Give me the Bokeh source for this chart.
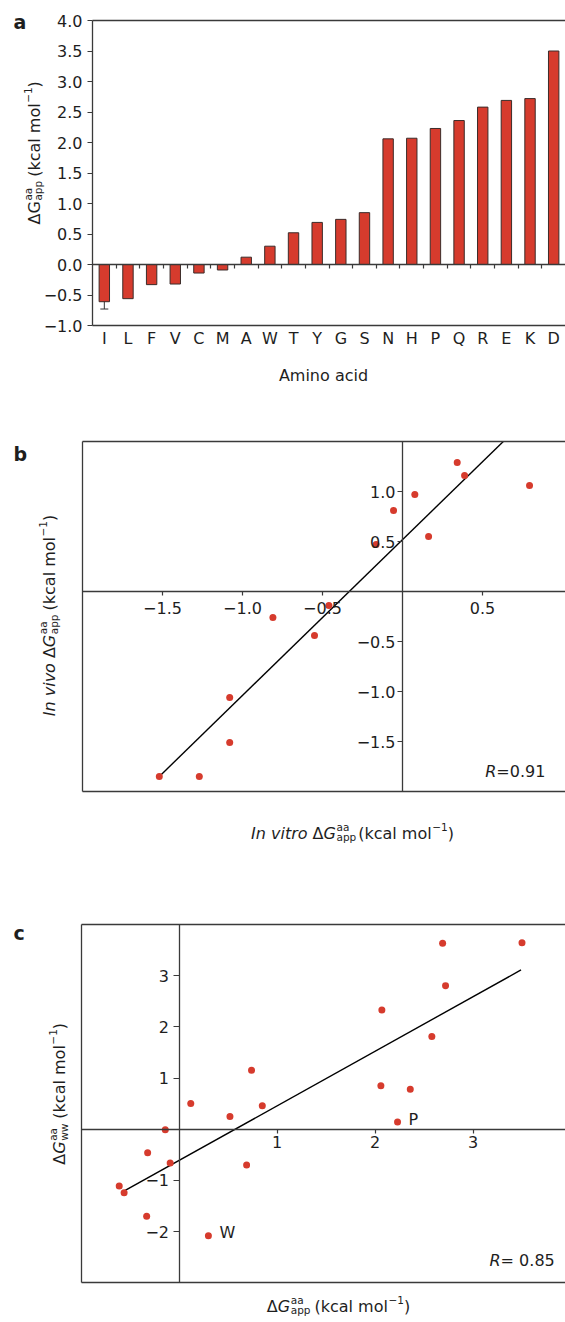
import math
from bokeh.plotting import figure
from bokeh.models import Range1d, LinearAxis, FixedTicker, Label, Whisker, ColumnDataSource, TeeHead
from bokeh.layouts import column
from bokeh.embed import file_html
from bokeh.resources import INLINE

# ---------------- data ----------------
amino_acids = ["I", "L", "F", "V", "C", "M", "A", "W", "T", "Y",
               "G", "S", "N", "H", "P", "Q", "R", "E", "K", "D"]
dg_app = [-0.61, -0.56, -0.33, -0.32, -0.14, -0.09, 0.12, 0.30, 0.52, 0.69,
          0.74, 0.85, 2.06, 2.07, 2.23, 2.36, 2.58, 2.69, 2.72, 3.50]
err_aa = ["I"]
err_lower = [-0.73]
err_upper = [-0.49]
a_yticks = [-1.0, -0.5, 0.0, 0.5, 1.0, 1.5, 2.0, 2.5, 3.0, 3.5, 4.0]

in_vitro = [-1.52, -1.27, -1.08, -1.08, -0.81, -0.55, -0.46, -0.165, -0.056, 0.077, 0.163, 0.342, 0.388, 0.794]
in_vivo = [-1.85, -1.85, -1.51, -1.06, -0.26, -0.44, -0.14, 0.47, 0.81, 0.97, 0.55, 1.29, 1.16, 1.06]
b_fit_x = [-1.52, 0.63]
b_fit_y = [-1.85, 1.50]
b_xticks = [-1.5, -1.0, -0.5, 0.5]
b_yticks = [-1.5, -1.0, -0.5, 0.5, 1.0]
b_r_value = "0.91"

dg_ww = [-1.11, -1.24, -1.70, -0.46, -0.01, -0.66, 0.50, -2.08, 0.25, -0.70,
         1.15, 0.46, 0.85, 2.33, 0.14, 0.78, 1.81, 3.63, 2.80, 3.64]
c_fit_x = [-0.59, 3.49]
c_fit_y = [-1.24, 3.11]
c_xticks = [1, 2, 3]
c_yticks = [-2, -1, 1, 2, 3]
c_labelled = ["W", "P"]
c_r_value = "0.85"

# ---------------- style ----------------
RED = "#d63b2d"
AXC = "#3a3a3a"
TXT = "#1e1e1e"
FONT = "DejaVu Sans"
FS = 16
SMALL = 10.5
PAGE_W = 565

# DejaVu Sans advance widths (per 1000 em)
AW = {' ': 318, '(': 390, ')': 390, '.': 318, '=': 838, '\u2212': 838, '-': 361,
      '0': 636, '1': 636, '2': 636, '3': 636, '4': 636, '5': 636, '6': 636, '7': 636, '8': 636, '9': 636,
      'A': 684, 'G': 775, 'I': 295, 'P': 603, 'R': 695, 'W': 989, '\u0394': 684,
      'a': 613, 'c': 550, 'd': 635, 'i': 278, 'k': 579, 'l': 278, 'm': 974, 'n': 634,
      'o': 612, 'p': 635, 'r': 411, 't': 392, 'v': 592, 'w': 818}


def tw(s, size):
    return sum(AW.get(ch, 620) for ch in s) / 1000.0 * size


def minus(s):
    return s.replace("-", "\u2212")


def fmt1(t):
    return minus(f"{t:.1f}")


def fmt0(t):
    return minus(f"{t:g}")


def make_fig(top, h, ox, sx, oy, sy):
    """Frame fills the whole canvas; ox/oy = page position of data 0, sx/sy = px per unit."""
    g = dict(ox=ox, sx=sx, oy=oy, sy=sy)
    x0, x1 = -ox / sx, (PAGE_W - ox) / sx
    y1, y0 = (oy - top) / sy, (oy - top - h) / sy
    p = figure(width=PAGE_W, height=h, x_range=Range1d(x0, x1), y_range=Range1d(y0, y1),
               x_axis_type=None, y_axis_type=None, toolbar_location=None, output_backend="svg",
               min_border=0)
    p.outline_line_color = None
    p.background_fill_color = "white"
    p.border_fill_color = "white"
    g["x1"] = x1
    return p, g


def to_data(g, px, py):
    return (px - g["ox"]) / g["sx"], (g["oy"] - py) / g["sy"]


def style_axis(ax, tick_out=5, standoff=4):
    ax.axis_line_color = AXC
    ax.axis_line_width = 1.3
    ax.major_tick_line_color = AXC
    ax.major_tick_line_width = 1.2
    ax.major_tick_out = tick_out
    ax.major_tick_in = 0
    ax.minor_tick_line_color = None
    ax.major_label_text_font = FONT
    ax.major_label_text_font_size = f"{FS}px"
    ax.major_label_text_color = TXT
    ax.major_label_standoff = standoff


def line_axis(p, side, loc, bounds, minor=None):
    ax = LinearAxis(fixed_location=loc, bounds=bounds,
                    ticker=FixedTicker(ticks=[], minor_ticks=minor or []))
    style_axis(ax, tick_out=0, standoff=0)
    ax.major_tick_line_color = None
    if minor:
        ax.minor_tick_line_color = AXC
        ax.minor_tick_line_width = 1.2
        ax.minor_tick_out = 4
        ax.minor_tick_in = 0
    p.add_layout(ax, side)


def tick_axis(p, side, loc, bounds, ticks, fmt, tick_out, standoff):
    ax = LinearAxis(fixed_location=loc, bounds=bounds, ticker=FixedTicker(ticks=ticks),
                    major_label_overrides={t: fmt(t) for t in ticks})
    style_axis(ax, tick_out=tick_out, standoff=standoff)
    p.add_layout(ax, side)
    return ax


def rich(p, g, segs, along, base, vertical=False, align="center", size=FS, small=SMALL):
    items = []
    u = 0.0
    for seg in segs:
        kind = seg[0]
        if kind == "n":
            style = seg[2] if len(seg) > 2 else "normal"
            items.append((u, 0.0, seg[1], size, style))
            u += tw(seg[1], size)
        elif kind == "gap":
            u += seg[1]
        elif kind == "sup":
            items.append((u + 0.5, 0.40 * size, seg[1], small, "normal"))
            u += tw(seg[1], small) + 0.5
        elif kind == "stack":
            items.append((u + 0.5, 0.41 * size, seg[1], small, "normal"))
            items.append((u + 0.5, -0.24 * size, seg[2], small, "normal"))
            u += max(tw(seg[1], small), tw(seg[2], small)) + 0.5
    if align == "center":
        start = along + u / 2 if vertical else along - u / 2
    else:
        start = along
    for uu, v, text, fs, style in items:
        if vertical:
            px, py, ang = base - v, start - uu, math.pi / 2
        else:
            px, py, ang = start + uu, base - v, 0.0
        x, y = to_data(g, px, py)
        p.add_layout(Label(x=x, y=y, text=text, angle=ang, text_align="left",
                           text_baseline="alphabetic", text_font=FONT,
                           text_font_size=f"{fs}px", text_font_style=style, text_color=TXT))


UNIT = [("n", "(kcal mol"), ("sup", "\u22121"), ("n", ")")]

# ---------------- panel a ----------------
n_aa = len(amino_acids)
pa, ga = make_fig(0, 400, 92, 473 / n_aa, 264, 61)
xs = [i + 0.5 for i in range(n_aa)]
src_a = ColumnDataSource(dict(x=xs, top=dg_app, aa=amino_acids))
pa.vbar(x="x", top="top", bottom=0, width=0.44, source=src_a,
        fill_color=RED, line_color="#3b2c2a", line_width=1)

ya, yb_ = a_yticks[0], a_yticks[-1]
tick_axis(pa, "left", 0, (ya, yb_), a_yticks, fmt1, 5, 5)
ax_cat = LinearAxis(fixed_location=ya, bounds=(0, n_aa), ticker=FixedTicker(ticks=xs),
                    major_label_overrides={x: a for x, a in zip(xs, amino_acids)})
style_axis(ax_cat, tick_out=0, standoff=3)
ax_cat.major_tick_line_color = None
pa.add_layout(ax_cat, "below")
line_axis(pa, "above", yb_, (0, n_aa))
line_axis(pa, "below", 0, (0, n_aa), minor=list(range(1, n_aa)))

wsrc = ColumnDataSource(dict(x=[xs[amino_acids.index(a)] for a in err_aa], lo=err_lower, hi=err_upper))
pa.add_layout(Whisker(base="x", lower="lo", upper="hi", source=wsrc, dimension="height",
                      line_color="#333333", line_width=1,
                      upper_head=TeeHead(size=8, line_color="#333333", line_width=1),
                      lower_head=TeeHead(size=8, line_color="#333333", line_width=1)))

rich(pa, ga, [("n", "a", "bold")], 13, 21.5, align="left", size=19)
rich(pa, ga, [("n", "\u0394G"), ("stack", "aa", "app"), ("gap", 4)] + UNIT, 152.3, 34, vertical=True)
rich(pa, ga, [("n", "Amino acid")], 323, 375)

# ---------------- panel b ----------------
pb, gb = make_fig(400, 480, 402, 160, 591, 100)
bx_lo, by_lo, by_hi = -2.0, -2.0, 1.5
line_axis(pb, "left", bx_lo, (by_lo, by_hi))
line_axis(pb, "above", by_hi, (bx_lo, gb["x1"]))
line_axis(pb, "below", by_lo, (bx_lo, gb["x1"]))
tick_axis(pb, "below", 0, (bx_lo, gb["x1"]), b_xticks, fmt1, 4, 6)
tick_axis(pb, "left", 0, (by_lo, by_hi), b_yticks, fmt1, 5, 2)
pb.line(b_fit_x, b_fit_y, line_color="black", line_width=1.4)
pb.scatter(in_vitro, in_vivo, size=7, fill_color=RED, line_color=None)

rich(pb, gb, [("n", "b", "bold")], 13, 453.5, align="left", size=19)
rich(pb, gb, [("n", "In vivo", "italic"), ("gap", 5), ("n", "\u0394"), ("n", "G", "italic"),
              ("stack", "aa", "app"), ("gap", 4)] + UNIT, 615, 49.3, vertical=True)
rich(pb, gb, [("n", "In vitro", "italic"), ("gap", 5), ("n", "\u0394"), ("n", "G", "italic"),
              ("stack", "aa", "app"), ("gap", 2)] + UNIT, 352, 832.7)
rich(pb, gb, [("n", "R", "italic"), ("n", "=" + b_r_value)], 484.7, 770.7, align="left")

# ---------------- panel c ----------------
pc, gc = make_fig(880, 442, 178.5, 98, 1128.7, 51.2)
cx_lo, cy_lo, cy_hi = -1.0, -3.0, 4.0
line_axis(pc, "left", cx_lo, (cy_lo, cy_hi))
line_axis(pc, "above", cy_hi, (cx_lo, gc["x1"]))
line_axis(pc, "below", cy_lo, (cx_lo, gc["x1"]))
tick_axis(pc, "below", 0, (cx_lo, gc["x1"]), c_xticks, fmt0, 4, 3)
tick_axis(pc, "left", 0, (cy_lo, cy_hi), c_yticks, fmt0, 6, 4)
pc.line(c_fit_x, c_fit_y, line_color="black", line_width=1.4)
pc.scatter(dg_app, dg_ww, size=7, fill_color=RED, line_color=None)
for aa in c_labelled:
    i = amino_acids.index(aa)
    pc.add_layout(Label(x=dg_app[i], y=dg_ww[i], text=aa, x_offset=11, y_offset=3,
                        text_align="left", text_baseline="middle", text_font=FONT,
                        text_font_size=f"{FS}px", text_color=TXT))

rich(pc, gc, [("n", "c", "bold")], 13, 932, align="left", size=19)
rich(pc, gc, [("n", "\u0394"), ("n", "G", "italic"), ("stack", "aa", "ww"), ("gap", 5)] + UNIT,
     1093.3, 59.3, vertical=True)
rich(pc, gc, [("n", "\u0394"), ("n", "G", "italic"), ("stack", "aa", "app"), ("gap", 4)] + UNIT, 338, 1306)
rich(pc, gc, [("n", "R", "italic"), ("n", "= " + c_r_value)], 489, 1260, align="left")

layout = column(pa, pb, pc)
open("out.html", "w").write(file_html(layout, INLINE))
